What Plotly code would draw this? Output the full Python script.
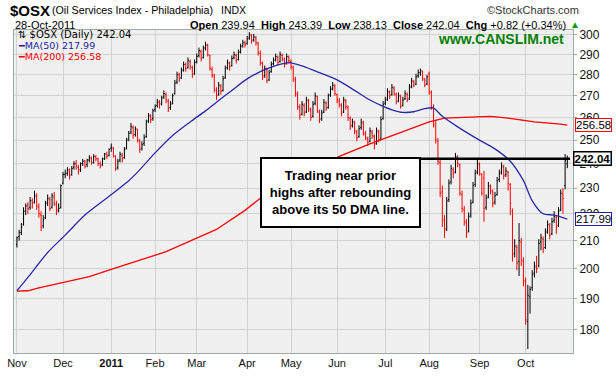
import numpy as np
import pandas as pd
import plotly.graph_objects as go

# ---------------- data ----------------
holidays = ["2010-11-25", "2010-12-24", "2011-01-17", "2011-02-21",
            "2011-04-22", "2011-05-30", "2011-07-04", "2011-09-05"]
all_days = pd.bdate_range("2010-11-01", "2011-10-28")
dates = all_days[~all_days.isin(pd.to_datetime(holidays))]

opens = [
    208.5, 211.5, 213.0, 216.0, 221.0, 223.5, 222.5, 225.0, 224.5, 226.5, 222.5, 219.5, 215.5, 218.5, 224.5, 225.5, 222.5, 226.5, 223.5, 221.5, 222.5,
    232.0, 235.5, 236.0, 237.0, 235.5, 238.5, 240.0, 238.5, 237.5, 240.0, 241.0, 239.5, 241.5, 242.0, 240.5, 243.0, 242.0, 240.0, 239.5, 242.0, 244.0, 243.5,
    246.5, 246.5, 243.0, 238.5, 241.5, 243.5, 242.5, 246.5, 250.5, 253.5, 255.5, 252.5, 254.5, 249.5, 246.5, 248.5, 251.5, 258.5, 260.5, 259.5,
    263.5, 265.5, 267.0, 266.5, 269.5, 270.5, 267.5, 264.5, 266.5, 271.0, 276.5, 280.0, 278.5, 282.5, 285.0, 283.5, 286.5, 283.5, 280.5,
    286.5, 289.5, 291.5, 288.5, 293.5, 294.5, 289.5, 282.5, 279.5, 272.5, 270.5, 274.5, 272.5, 278.5, 283.5, 285.5, 284.5, 288.5, 289.5, 287.5, 291.5, 294.5, 296.0,
    295.5, 298.5, 299.5, 297.5, 298.5, 295.5, 290.5, 285.5, 279.5, 282.5, 277.5, 281.5, 285.5, 287.5, 288.5, 286.5, 289.5, 287.5, 285.5, 288.5,
    286.5, 283.5, 277.5, 270.5, 264.5, 261.5, 265.5, 262.5, 267.5, 263.5, 260.5, 266.5, 269.5, 262.5, 259.5, 262.5, 266.5, 264.5, 270.5, 273.5, 274.5,
    270.5, 267.5, 265.5, 262.5, 267.5, 264.5, 259.5, 256.5, 257.5, 253.5, 251.5, 255.5, 257.5, 252.5, 250.5, 249.5, 253.5, 251.5, 248.5, 253.5, 250.5, 259.5,
    266.5, 268.5, 271.5, 270.5, 273.5, 270.5, 267.5, 269.5, 265.5, 268.5, 270.5, 268.5, 274.5, 276.5, 275.5, 279.5, 281.0, 281.5, 277.5, 275.5,
    280.5, 271.5, 264.5, 256.5, 249.5, 240.5, 228.5, 217.5, 214.5, 225.5, 232.5, 237.5, 236.5, 242.5, 239.5, 227.5, 221.5, 216.5, 213.5, 219.5, 224.5, 231.5, 236.5,
    239.5, 235.5, 234.0, 222.5, 226.5, 230.5, 228.5, 224.5, 227.5, 233.5, 236.5, 238.5, 235.5, 236.5, 231.5, 221.0, 205.5, 207.5, 202.5, 209.5, 202.5,
    195.5, 182.5, 190.5, 193.5, 198.5, 200.5, 201.0, 209.5, 210.5, 207.5, 213.5, 215.5, 212.5, 217.5, 218.5, 215.5, 221.5, 227.5, 231.0, 239.94,
]
highs = [
    211.5, 214.0, 216.5, 222.5, 224.0, 224.5, 226.5, 226.0, 229.0, 228.0, 224.0, 221.0, 219.5, 225.0, 227.5, 226.5, 228.0, 228.5, 225.0, 224.0, 231.5,
    236.5, 237.5, 238.5, 238.0, 239.0, 241.0, 241.5, 239.5, 240.5, 242.0, 241.5, 242.0, 243.5, 243.0, 244.0, 243.5, 242.5, 241.0, 242.5, 244.5, 245.0, 246.5,
    248.5, 247.0, 243.5, 242.0, 245.0, 244.5, 247.0, 251.0, 254.0, 257.5, 256.5, 256.0, 255.0, 250.5, 249.5, 252.5, 259.0, 262.0, 261.5, 264.0,
    266.0, 268.5, 268.0, 270.0, 272.5, 271.5, 268.5, 267.5, 271.0, 277.5, 281.5, 281.0, 283.5, 286.5, 286.0, 288.5, 287.5, 284.5, 287.5,
    290.5, 293.5, 292.5, 294.5, 296.5, 295.5, 290.0, 284.0, 280.5, 274.0, 276.5, 275.5, 279.5, 284.5, 287.5, 286.5, 289.5, 291.5, 290.5, 292.5, 295.5, 297.5, 297.0,
    299.5, 301.5, 300.5, 300.5, 299.5, 296.5, 292.0, 286.5, 284.5, 283.5, 282.5, 286.5, 288.5, 290.5, 289.5, 291.5, 290.5, 288.5, 290.5, 289.5,
    287.5, 284.5, 279.0, 272.0, 266.0, 267.5, 266.5, 269.5, 268.5, 264.5, 267.5, 271.5, 270.0, 263.5, 263.5, 268.5, 267.5, 271.0, 274.5, 276.5, 275.5,
    271.0, 269.0, 266.5, 269.5, 268.5, 265.5, 260.5, 259.5, 258.5, 254.5, 256.5, 259.5, 258.5, 254.0, 251.5, 255.5, 254.5, 252.5, 255.5, 254.5, 260.5, 267.5,
    269.5, 273.5, 272.5, 275.5, 274.5, 271.5, 271.5, 270.5, 269.5, 272.5, 271.5, 275.5, 278.5, 277.5, 280.5, 282.5, 283.0, 282.0, 278.5, 280.0,
    281.5, 272.5, 266.0, 258.5, 251.0, 241.5, 231.0, 219.5, 226.5, 233.5, 239.5, 238.5, 244.5, 243.5, 240.0, 229.0, 223.0, 218.0, 220.5, 225.5, 232.5, 237.5, 241.5,
    240.5, 236.0, 237.0, 227.5, 232.5, 231.5, 229.5, 228.5, 234.5, 237.5, 240.5, 239.5, 238.5, 237.0, 232.0, 222.0, 210.5, 208.5, 216.5, 211.0, 204.0,
    197.0, 194.5, 194.0, 199.5, 202.5, 204.5, 210.5, 212.5, 211.5, 214.5, 217.5, 216.5, 218.5, 221.0, 219.5, 222.5, 229.5, 230.0, 244.0, 243.39,
]
lows = [
    207.5, 210.0, 212.0, 215.5, 219.5, 220.0, 221.5, 222.0, 224.0, 221.5, 218.5, 213.5, 214.5, 218.0, 223.0, 221.0, 222.0, 223.0, 219.5, 220.5, 222.0,
    231.5, 234.0, 235.0, 233.5, 235.0, 237.5, 237.5, 235.5, 236.5, 239.0, 238.0, 238.5, 240.5, 239.5, 240.0, 241.0, 239.0, 238.0, 239.0, 241.5, 242.0, 243.0,
    245.0, 242.5, 237.0, 237.5, 240.5, 240.5, 242.0, 246.0, 249.5, 252.5, 250.5, 251.5, 249.0, 244.5, 245.5, 247.5, 251.0, 257.5, 257.5, 258.5,
    262.5, 264.5, 264.0, 265.5, 268.5, 266.5, 262.5, 263.5, 266.0, 270.5, 275.5, 276.5, 278.0, 281.5, 281.5, 283.0, 282.5, 278.5, 280.0,
    285.5, 288.5, 286.5, 288.0, 292.0, 289.0, 282.0, 278.5, 271.5, 268.0, 270.0, 270.5, 272.0, 278.0, 282.5, 282.0, 284.0, 287.5, 285.5, 287.0, 290.5, 293.5, 293.5,
    295.0, 297.5, 295.5, 296.5, 294.5, 289.5, 284.5, 277.5, 278.5, 276.0, 277.0, 281.0, 284.5, 286.5, 284.5, 286.0, 286.5, 283.5, 285.0, 285.5,
    282.5, 276.5, 269.5, 263.5, 259.0, 261.0, 260.5, 262.0, 262.5, 258.5, 260.0, 265.5, 262.0, 257.5, 258.5, 262.0, 263.0, 264.0, 269.5, 272.5, 270.0,
    266.5, 264.5, 260.5, 262.0, 263.5, 258.5, 254.5, 255.5, 252.5, 249.5, 251.0, 254.5, 252.0, 250.0, 247.5, 249.0, 250.5, 246.0, 248.0, 249.0, 250.0, 259.0,
    265.5, 267.5, 268.5, 270.0, 270.0, 266.0, 267.0, 264.0, 265.0, 268.0, 267.0, 268.0, 273.5, 274.0, 275.0, 278.5, 279.5, 277.0, 274.0, 275.0,
    270.5, 263.5, 255.5, 248.5, 239.5, 226.5, 215.0, 211.0, 213.5, 224.5, 231.5, 234.0, 236.0, 238.5, 227.0, 220.5, 215.5, 211.0, 213.0, 218.5, 224.0, 230.5, 235.5,
    235.0, 227.0, 217.0, 221.5, 226.0, 227.5, 222.5, 223.5, 227.0, 232.5, 235.5, 233.5, 234.5, 229.0, 219.5, 202.5, 204.0, 199.5, 197.5, 201.0, 194.0,
    181.5, 174.0, 185.0, 192.5, 197.0, 198.5, 200.5, 206.5, 205.5, 207.0, 212.5, 210.5, 212.0, 216.5, 212.5, 215.0, 221.0, 220.0, 229.5, 238.13,
]
closes = [
    211.0, 213.0, 215.0, 221.0, 223.0, 222.0, 225.0, 224.0, 227.0, 223.0, 220.0, 215.0, 218.0, 224.0, 226.0, 222.0, 227.0, 224.0, 221.0, 222.0, 231.0,
    235.5, 236.0, 237.5, 235.0, 238.0, 240.0, 239.0, 237.0, 240.0, 241.0, 239.0, 241.5, 242.5, 240.5, 243.0, 242.0, 240.0, 239.0, 242.0, 244.0, 243.0, 246.0,
    247.0, 243.5, 238.0, 241.0, 244.0, 242.0, 246.0, 250.0, 253.0, 256.0, 252.0, 255.0, 250.0, 246.0, 248.0, 251.0, 258.0, 261.0, 259.0, 263.0,
    265.0, 267.0, 266.0, 269.0, 271.0, 268.0, 264.0, 266.0, 270.0, 276.0, 280.0, 278.0, 282.0, 285.0, 283.0, 287.0, 284.0, 280.0, 286.0,
    289.0, 292.0, 288.0, 293.0, 295.0, 290.0, 283.0, 280.0, 273.0, 270.0, 275.0, 272.0, 278.0, 283.0, 286.0, 284.0, 288.0, 290.0, 287.0, 291.0, 294.0, 296.0, 295.0,
    298.0, 300.0, 297.0, 299.0, 296.0, 291.0, 286.0, 279.0, 283.0, 277.0, 281.0, 285.0, 287.0, 289.0, 286.0, 290.0, 288.0, 285.0, 289.0, 287.0,
    284.0, 278.0, 271.0, 265.0, 261.0, 266.0, 262.0, 268.0, 264.0, 260.0, 266.0, 270.0, 263.0, 259.0, 262.0, 267.0, 264.0, 270.0, 273.0, 275.0, 271.0,
    268.0, 266.0, 262.0, 268.0, 265.0, 260.0, 256.0, 258.0, 254.0, 251.0, 255.0, 258.0, 253.0, 251.0, 249.0, 254.0, 252.0, 248.0, 254.0, 250.0, 259.0, 266.0,
    268.0, 272.0, 270.0, 274.0, 271.0, 267.0, 270.0, 265.0, 268.0, 271.0, 268.0, 274.0, 277.0, 275.0, 279.0, 281.0, 282.0, 278.0, 275.0, 279.0,
    272.0, 265.0, 257.0, 250.0, 241.0, 228.0, 218.0, 214.0, 225.0, 232.0, 238.0, 236.0, 243.0, 240.0, 228.0, 222.0, 217.0, 213.0, 219.0, 224.0, 231.0, 236.0, 240.0,
    236.0, 228.0, 222.0, 226.0, 231.0, 229.0, 224.0, 227.0, 233.0, 236.0, 239.0, 235.0, 237.0, 232.0, 224.0, 205.0, 208.0, 202.0, 210.0, 203.0, 196.0,
    183.0, 191.0, 193.0, 198.0, 201.0, 200.0, 209.0, 211.0, 207.0, 213.0, 216.0, 212.0, 217.0, 219.0, 215.0, 221.0, 228.0, 226.0, 241.22, 242.04,
]

ma50_idx = [0, 5, 14, 22, 31, 39, 51, 55, 63, 71, 79, 86, 91, 98, 105, 112, 118, 124, 131, 138,
            146, 154, 161, 166, 171, 176, 181, 186, 190, 194, 201, 210, 218, 225, 231, 235, 240, 245, 251]
ma50_val = [192.5, 197.0, 205.7, 212.0, 219.5, 224.8, 233.0, 236.5, 244.5, 252.0, 258.0, 263.0, 267.0, 272.5, 278.0,
            282.0, 284.5, 286.0, 284.0, 281.0, 277.5, 272.5, 268.0, 265.5, 263.5, 262.3, 262.6, 264.0, 264.3, 260.5,
            255.8, 250.5, 246.2, 241.0, 233.0, 225.0, 220.0, 219.5, 217.99]
ma200_idx = [0, 5, 10, 21, 33, 44, 55, 68, 91, 104, 111, 147, 161, 176, 188, 195, 206, 216, 224, 236, 248, 251]
ma200_val = [192.4, 192.5, 193.5, 195.4, 197.3, 200.0, 202.6, 206.0, 214.1, 221.3, 226.0, 243.0, 248.4, 253.6, 258.0, 259.7,
             260.2, 260.5, 259.7, 258.0, 257.0, 256.58]

month_labels = ["Nov", "Dec", "<b>2011</b>", "Feb", "Mar", "Apr", "May", "Jun", "Jul", "Aug", "Sep", "Oct"]
y_ticks = [180, 190, 200, 210, 220, 230, 240, 250, 260, 270, 280, 290, 300]

# ---------------- derived ----------------
xi = np.arange(len(dates))
o, h, l, c = map(np.array, (opens, highs, lows, closes))
prev = np.r_[c[0], c[:-1]]
up = c >= prev
first_idx = pd.Series(xi, index=dates).groupby([dates.year, dates.month]).min().values

fig = go.Figure()
for mask, col in [(up, "#000000"), (~up, "#ff0000")]:
    fig.add_trace(go.Ohlc(
        x=xi[mask], open=o[mask], high=h[mask], low=l[mask], close=c[mask],
        increasing=dict(line=dict(color=col, width=1)),
        decreasing=dict(line=dict(color=col, width=1)),
        tickwidth=0.45, showlegend=False, hoverinfo="skip"))

fig.add_trace(go.Scatter(x=ma200_idx, y=ma200_val, mode="lines",
                         line=dict(color="#ff0000", width=1.3), hoverinfo="skip"))
fig.add_trace(go.Scatter(x=ma50_idx, y=ma50_val, mode="lines",
                         line=dict(color="#2a2aa8", width=1.3, shape="spline", smoothing=0.8),
                         hoverinfo="skip"))

# ---------------- layout ----------------
L, R, T, B = 7, 573, 30, 356
W, H = 616, 376


def px(x):
    return (x - L) / (R - L)


def py(y):
    return (B - y) / (B - T)


AR = "Liberation Sans, Arial, sans-serif"
VD = "DejaVu Sans, Verdana, sans-serif"

fig.update_layout(
    width=W, height=H,
    margin=dict(l=L, r=W - R, t=T, b=H - B),
    paper_bgcolor="white", plot_bgcolor="#f0f0f0",
    showlegend=False,
    xaxis=dict(range=[-1.35, 253.6], tickmode="array", tickvals=first_idx, ticktext=month_labels,
               showgrid=True, gridcolor="#d2d2d2", gridwidth=1, zeroline=False,
               showline=True, mirror=True, linecolor="#9fa9a9", linewidth=1,
               ticks="", tickfont=dict(family=AR, size=11, color="#111"),
               rangeslider=dict(visible=False), fixedrange=True),
    yaxis=dict(type="log", side="right", range=[np.log10(172.8), np.log10(302.6)],
               tickmode="array", tickvals=y_ticks, ticktext=[str(v) for v in y_ticks],
               showgrid=True, gridcolor="#d2d2d2", gridwidth=1, zeroline=False,
               showline=True, mirror=True, linecolor="#9fa9a9", linewidth=1,
               ticks="outside", ticklen=3, tickcolor="#9fa9a9",
               tickfont=dict(family=AR, size=12, color="#111"), fixedrange=True),
)

ann = []


def text(x, y, s, size, color="#000", family=AR, xanchor="left", **kw):
    ann.append(dict(xref="paper", yref="paper", x=px(x), y=py(y), text=s, showarrow=False,
                    xanchor=xanchor, yanchor="middle", font=dict(size=size, color=color, family=family), **kw))


last = len(c) - 1
chg = c[last] - c[last - 1]
pct = chg / c[last - 1] * 100

text(1, 10, "<b>$OSX</b>", 15)
text(43, 10, "(Oil Services Index - Philadelphia)", 10.7)
text(215, 10, "INDX", 10.5)
text(581, 10, "©StockCharts.com", 11, color="#333", xanchor="right")
text(6, 25, "28-Oct-2011", 11)
text(568, 25,
     f"<b>Open</b> {o[last]:.2f}  <b>High</b> {h[last]:.2f}  <b>Low</b> {l[last]:.2f}  "
     f"<b>Close</b> {c[last]:.2f}  <b>Chg</b> {chg:+.2f} ({pct:+.2f}%)", 11, xanchor="right")
text(575, 24, "▲", 10, color="#00a000", xanchor="center")

text(9, 35, f"⇅ $OSX (Daily) {c[last]:.2f}", 10, family=VD)
text(9, 46, f"<b>━</b>MA(50) {ma50_val[-1]:.2f}", 9.5, color="#1c1ca0", family=VD)
text(9, 57, f"<b>━</b>MA(200) {ma200_val[-1]:.2f}", 9.5, color="#ff0000", family=VD)

text(566, 39, "<b>www.CANSLIM.net</b>", 14, color="#008000", xanchor="right")

ann.append(dict(xref="paper", yref="paper", x=px(337.5), y=py(194.5), xanchor="center", yanchor="middle",
                text="<b>Trading near prior<br>highs after rebounding<br>above its 50 DMA line.</b>",
                showarrow=False, font=dict(size=13, family=AR, color="#000"), align="center",
                bgcolor="white", bordercolor="black", borderwidth=2, borderpad=0, width=157, height=67))

# value tags at right edge
for val, col, bold in [(ma200_val[-1], "#ff0000", False), (c[last], "#000000", True), (ma50_val[-1], "#1c1ca0", False)]:
    s = f"{val:.2f}"
    ann.append(dict(xref="paper", yref="y", x=px(612), y=np.log10(val), xanchor="right", yanchor="middle",
                    text=f"<b>{s}</b>" if bold else s, showarrow=False,
                    font=dict(size=11.5, family=AR, color="#000"),
                    bgcolor="white", bordercolor=col, borderwidth=1.5 if bold else 1, borderpad=0))

fig.update_layout(annotations=ann)

fig.add_shape(type="line", xref="paper", yref="y", x0=px(418), x1=px(570), y0=c[last], y1=c[last],
              line=dict(color="black", width=2.5))

fig.write_html("out.html", config={"displayModeBar": False},
               post_script="document.body.style.margin='0';")
